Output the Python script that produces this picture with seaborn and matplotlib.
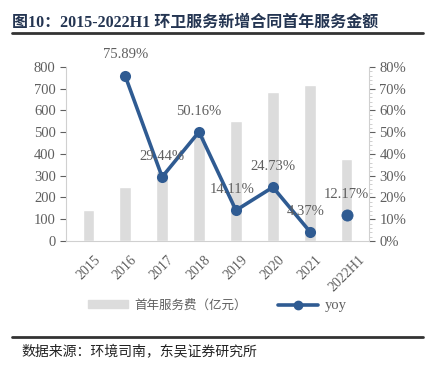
import matplotlib
matplotlib.use("Agg")
import matplotlib.pyplot as plt
import seaborn as sns
import numpy as np
import pandas as pd
from matplotlib.ticker import MultipleLocator, PercentFormatter
from matplotlib.patches import Patch
from matplotlib.lines import Line2D

years = ["2015", "2016", "2017", "2018", "2019", "2020", "2021", "2022H1"]
fee = [141, 248, 321, 482, 550, 686, 716, 379]
yoy = [np.nan, 75.89, 29.44, 50.16, 14.11, 24.73, 4.37, 12.17]
yoy_labels = ["", "75.89%", "29.44%", "50.16%", "14.11%", "24.73%", "4.37%", "12.17%"]

sns.set_style("white")
plt.rcParams["font.family"] = ["Liberation Serif", "Noto Sans CJK SC", "DejaVu Sans"]

BAR = "#DCDCDC"
LINE = "#2F5B92"
GREY = "#5F5F5F"

df = pd.DataFrame({"year": years, "fee": fee, "yoy": yoy, "pos": np.arange(len(years))})

fig = plt.figure(figsize=(4.35, 3.76), dpi=100)
ax = fig.add_axes([0.152, 0.359, 0.696, 0.463])
sns.barplot(data=df, x="pos", y="fee", color=BAR, width=0.31, ax=ax, native_scale=True)
ax.set_xlim(-0.6, len(years) - 0.4)
ax.set_ylim(0, 800)
ax.yaxis.set_major_locator(MultipleLocator(100))
ax.set_xticks(df["pos"])
ax.set_xticklabels(years, rotation=45, fontsize=10, color=GREY, ha="center")
ax.tick_params(axis="y", labelsize=10.5, colors=GREY, length=4, direction="out", left=True)
ax.tick_params(axis="x", length=0, pad=9)
ax.set_xlabel("")
ax.set_ylabel("")
for s in ["top", "right"]:
    ax.spines[s].set_visible(False)
for s in ["left", "bottom"]:
    ax.spines[s].set_color("#D0D0D0")

# yoy 折线：2016-2021 连线，2022H1 单独一个点
ax2 = ax.twinx()
line_df = df.iloc[1:7]
sns.lineplot(data=line_df, x="pos", y="yoy", color=LINE, lw=2.6, marker="o", markersize=8,
             markeredgewidth=0, ax=ax2)
last = df.iloc[[7]]
sns.scatterplot(data=last, x="pos", y="yoy", color=LINE, s=64, edgecolor=LINE, ax=ax2, zorder=4)
ax2.set_ylim(0, 80)
ax2.set_xlim(ax.get_xlim())
ax2.yaxis.set_major_locator(MultipleLocator(10))
ax2.yaxis.set_minor_locator(MultipleLocator(2))
ax2.yaxis.set_major_formatter(PercentFormatter(decimals=0))
ax2.tick_params(axis="y", which="major", labelsize=10.5, colors=GREY, length=4, direction="out", right=True)
ax2.tick_params(axis="y", which="minor", colors="#C8C8C8", length=2.5, direction="out", right=True)
ax2.set_ylabel("")
ax2.set_xlabel("")
for s in ["top", "left", "bottom"]:
    ax2.spines[s].set_visible(False)
ax2.spines["right"].set_color("#D0D0D0")

offsets = {1: (0, 7), 2: (0, 6), 3: (0, 6), 4: (-3, 6), 5: (0, 6), 6: (-3, 6), 7: (0, 6)}
for i in range(1, len(years)):
    dx, dy = offsets[i]
    ax2.annotate(yoy_labels[i], (i, yoy[i]), xytext=(dx, dy + 4), textcoords="offset points",
                 ha="center", va="bottom", fontsize=10.5, color=GREY)

handles = [Patch(facecolor=BAR, edgecolor=BAR),
           Line2D([0], [0], color=LINE, lw=2.6, marker="o", markersize=6)]
leg = fig.legend(handles, ["首年服务费（亿元）", "yoy"], loc="center", bbox_to_anchor=(0.5, 0.188),
                 ncol=2, frameon=False, labelcolor=GREY, handlelength=3.2,
                 handleheight=0.6, columnspacing=2.5, handletextpad=0.5,
                 prop={"family": ["Noto Sans CJK SC", "DejaVu Sans"], "size": 9})
leg.get_texts()[1].set_family("Liberation Serif")
leg.get_texts()[1].set_fontsize(10.5)

fig.text(0.028, 0.94, "图10：2015-2022H1 环卫服务新增合同首年服务金额", fontsize=11.5,
         fontweight="bold", color="#243552", va="center",
         family=["Liberation Serif", "Noto Sans CJK SC"])
fig.add_artist(Line2D([0.028, 0.972], [0.912, 0.912], color="#333333", lw=2))
fig.add_artist(Line2D([0.028, 0.972], [0.104, 0.104], color="#333333", lw=2))
fig.text(0.05, 0.062, "数据来源：环境司南，东吴证券研究所", fontsize=10, color="#222222", va="center",
         family=["Noto Sans CJK SC", "DejaVu Sans"])

fig.savefig("out.png", dpi=100)
plt.close(fig)
